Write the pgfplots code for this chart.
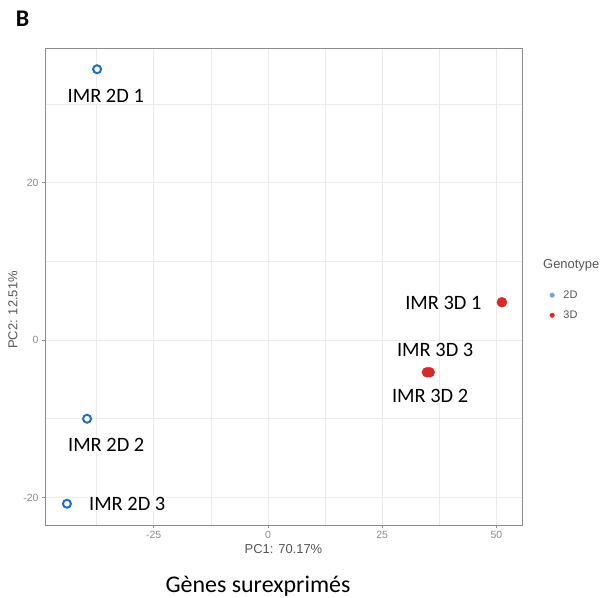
\documentclass[border=0pt]{standalone}
\usepackage{pgfplots}
\pgfplotsset{compat=1.18}
\usepackage{fontspec}
\setmainfont{Carlito}
\newfontfamily\arial{Liberation Sans}
\definecolor{ptblue}{HTML}{1F6EC4}
\definecolor{ptred}{HTML}{D42A2A}
\definecolor{legblue}{HTML}{6FA8DC}
\definecolor{gridc}{HTML}{EBEBEB}
\definecolor{borderc}{HTML}{8C8C8C}
\definecolor{tickc}{HTML}{8A8A8A}
\definecolor{titlec}{HTML}{555555}
\begin{document}
\begin{tikzpicture}
\useasboundingbox (0,0) rectangle (609bp,598bp);
\node[font=\fontsize{24}{26}\selectfont\bfseries] at (22.5bp,579bp) {B};
\begin{axis}[
  at={(45bp,73bp)}, anchor=south west,
  scale only axis, width=477bp, height=477bp,
  xmin=-48.8, xmax=55.6, ymin=-23.5, ymax=37.1,
  xtick={-25,0,25,50}, ytick={-20,0,20},
  minor xtick={-37.5,-12.5,12.5,37.5}, minor ytick={-10,10,30},
  grid=both,
  major grid style={gridc, line width=0.9pt},
  minor grid style={gridc, line width=0.5pt},
  axis line style={borderc, line width=0.8pt},
  tick align=outside, tick pos=left,
  major tick length=3bp,
  tick style={borderc, line width=0.8pt},
  minor tick length=0pt,
  ticklabel style={font=\arial\fontsize{10.5}{11}\selectfont, text=tickc},
  xticklabel style={yshift=0bp},
  /pgf/number format/assume math mode=true,
  legend style={at={(1.058,0.496)}, anchor=north west, draw=none, fill=none,
    font=\arial\fontsize{11}{12}\selectfont, text=titlec, row sep=7bp, column sep=7bp, inner sep=0pt},
  legend cell align=left,
  clip=false,
]
\addlegendimage{only marks, mark=*, mark size=2.3pt, color=legblue}
\addlegendentry{2D}
\addlegendimage{only marks, mark=*, mark size=2.3pt, color=ptred}
\addlegendentry{3D}
\addplot[only marks, mark=*, mark size=4pt, mark options={draw=ptblue, fill=white, line width=2pt}, forget plot]
  coordinates {(-37.4,34.4) (-39.6,-10.0) (-44.0,-20.8)};
\addplot[only marks, mark=*, mark size=5pt, color=ptred, forget plot]
  coordinates {(51.2,4.8) (34.8,-4.1) (35.4,-4.1)};
\begin{scope}[every node/.style={font=\fontsize{20.5}{22}\selectfont, fill=white, inner sep=1pt}]
\node at (axis cs:-35.5,31.0) {IMR 2D 1};
\node at (axis cs:-35.4,-13.3) {IMR 2D 2};
\node at (axis cs:-30.8,-20.8) {IMR 2D 3};
\node at (axis cs:38.4,4.76) {IMR 3D 1};
\node at (axis cs:36.6,-1.27) {IMR 3D 3};
\node at (axis cs:35.5,-7.05) {IMR 3D 2};
\end{scope}
\end{axis}
\node[font=\arial\fontsize{13}{14}\selectfont, text=titlec] at (283.5bp,49bp) {PC1: 70.17\%};
\node[font=\arial\fontsize{13}{14}\selectfont, text=titlec, rotate=90] at (13bp,288bp) {PC2: 12.51\%};
\node[anchor=west, font=\arial\fontsize{13}{14}\selectfont, text=titlec, inner sep=0pt] at (543bp,333bp) {Genotype};
\node[font=\fontsize{24}{26}\selectfont] at (258bp,12bp) {Gènes surexprimés};
\end{tikzpicture}
\end{document}
